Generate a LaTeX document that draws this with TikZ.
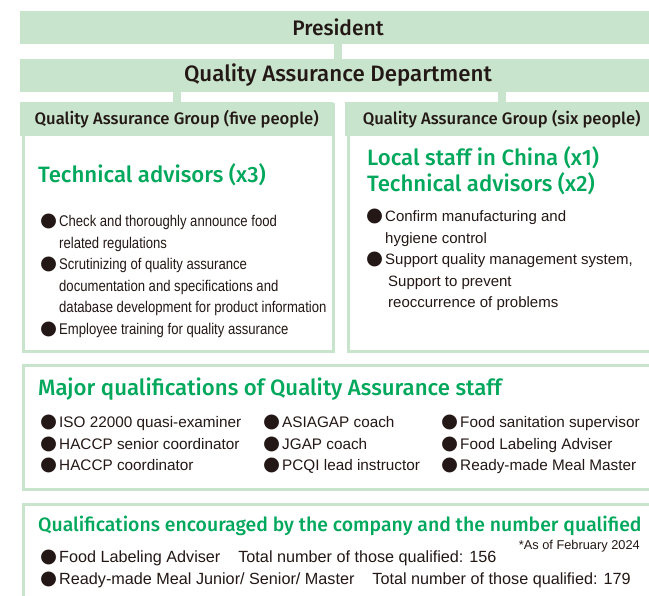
\documentclass[tikz,border=0pt]{standalone}
\usepackage{fontspec}
\setmainfont{Fira Sans}
\newfontfamily\headfont{Fira Sans Medium}
\newfontfamily\narrowfont[FakeStretch=0.845]{Liberation Sans}
\newfontfamily\bodyfont{Liberation Sans}
\newfontfamily\dotfont{DejaVu Sans}
\usetikzlibrary{positioning}
\definecolor{qagreen}{HTML}{C8E4CD}
\definecolor{qatext}{HTML}{00A85C}
\definecolor{qadark}{HTML}{231815}
\newcommand{\qdot}{{\dotfont\fontsize{19.5}{14}\selectfont ●}\hspace{2pt}}
\newcommand{\qskip}{\hphantom{\qdot}}
\begin{document}
\begin{tikzpicture}[x=1pt, y=-1pt,
    bar/.style={fill=qagreen, minimum width=636pt, minimum height=33pt, inner sep=0pt,
      text=qadark, font=\headfont\fontsize{21}{22}\selectfont},
    stem/.style={draw=qagreen, line width=8pt},
    panel/.style={draw=qagreen, line width=3pt, fill=white, inner sep=0pt, anchor=north west},
    header/.style={fill=qagreen, inner sep=0pt, minimum height=34pt, anchor=north west,
      text=qadark, font=\headfont\fontsize{16.65}{17}\selectfont},
    title/.style={anchor=west, inner sep=0pt, text=qatext, align=left,
      font=\headfont\fontsize{22.2}{26}\selectfont},
    items/.style={anchor=north west, inner sep=0pt, text=qadark, align=left,
      font=\bodyfont\fontsize{15.3}{21.5}\selectfont}]
\useasboundingbox (0,0) rectangle (649,596);
\clip (0,0) rectangle (649,596);

% top of the chart
\node[bar] (pres) at (338,27.5) {President};
\node[bar, font=\headfont\fontsize{22.3}{23}\selectfont] (dept) at (338,75.5) {Quality Assurance Department};
\draw[stem] (pres) -- (dept);

% two groups
\node[panel, minimum width=310pt, minimum height=247pt] (grpL) at (21.5,103.5) {};
\node[panel, minimum width=310pt, minimum height=247pt] (grpR) at (346.5,103.5) {};
\node[header, minimum width=313pt] (hdL) at (20,102) {Quality Assurance Group (five people)};
\node[header, minimum width=313pt] (hdR) at (345,102) {Quality Assurance Group (six people)};
\draw[stem] (dept.south -| hdL.north) -- (hdL.north);
\draw[stem] (dept.south -| hdR.north) -- (hdR.north);

\node[title] (advL) at (38,175) {Technical advisors (x3)};
\node[items, font=\narrowfont\fontsize{15.5}{21.5}\selectfont] (listL) at (40,214) {\qdot Check and thoroughly announce food\\
  \qskip related regulations\\
  \qdot Scrutinizing of quality assurance\\
  \qskip documentation and specifications and\\
  \qskip database development for product information\\
  \qdot Employee training for quality assurance};

\node[title] (advR) at (367,171) {Local staff in China (x1)\\Technical advisors (x2)};
\node[items, font=\bodyfont\fontsize{15}{21.5}\selectfont] (listR) at (366,209) {\qdot Confirm manufacturing and\\
  \qskip hygiene control\\
  \qdot Support quality management system,\\
  \qskip\hspace{3pt}Support to prevent\\
  \qskip\hspace{3pt}reoccurrence of problems};

% qualifications of the staff
\node[panel, minimum width=633pt, minimum height=124pt] (major) at (21.5,364.5) {};
\node[title] (majorT) at (38,389) {Major qualifications of Quality Assurance staff};
\node[items] (colA) at (40,415) {\qdot ISO 22000 quasi-examiner\\
  \qdot HACCP senior coordinator\\
  \qdot HACCP coordinator};
\node[items] (colB) at (263,415) {\qdot ASIAGAP coach\\
  \qdot JGAP coach\\
  \qdot PCQI lead instructor};
\node[items] (colC) at (441,415) {\qdot Food sanitation supervisor\\
  \qdot Food Labeling Adviser\\
  \qdot Ready-made Meal Master};

% encouraged qualifications
\node[panel, minimum width=633pt, minimum height=120pt] (enc) at (21.5,503.5) {};
\node[title, font=\headfont\fontsize{19.4}{26}\selectfont] (encT) at (38,526) {Qualifications encouraged by the company and the number qualified};
\node[anchor=east, inner sep=0pt, text=qadark, font=\bodyfont\fontsize{12.8}{13}\selectfont]
  (asof) at (640,546) {*As of February 2024};
\node[items, font=\bodyfont\fontsize{16.2}{21.5}\selectfont] (encL) at (40,550) {\qdot Food Labeling Adviser\hspace{18pt}Total number of those qualified: 156\\
  \qdot Ready-made Meal Junior/ Senior/ Master\hspace{18pt}Total number of those qualified: 179};
\end{tikzpicture}
\end{document}
